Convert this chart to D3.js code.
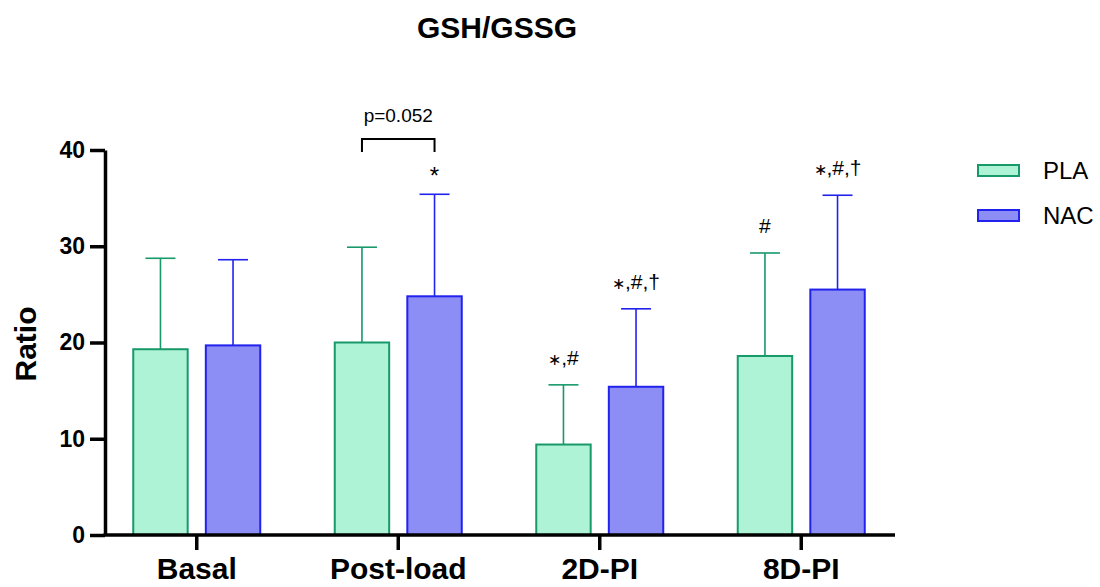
<!DOCTYPE html>
<html>
<head>
<meta charset="utf-8">
<script src="https://cdn.jsdelivr.net/npm/d3@7"></script>
<style>
  body { margin: 0; background: #fff; }
  svg { font-family: "Liberation Sans", Arial, sans-serif; }
</style>
</head>
<body>
<svg id="chart" width="1100" height="587"></svg>
<script>
let groups = ["Basal", "Post-load", "2D-PI", "8D-PI"];
let series = ["PLA", "NAC"];
let plaMean = [19.3, 20.0, 9.4, 18.6];
let plaSD = [9.45, 9.9, 6.2, 10.7];
let nacMean = [19.7, 24.8, 15.4, 25.5];
let nacSD = [8.9, 10.6, 8.1, 9.8];
let yTicks = [0, 10, 20, 30, 40];
// significance marks: group, series, text
let marks = [
  ["Post-load", "NAC", "*"],
  ["2D-PI", "PLA", "\u2217,#"],
  ["2D-PI", "NAC", "\u2217,#,\u2020"],
  ["8D-PI", "PLA", "#"],
  ["8D-PI", "NAC", "\u2217,#,\u2020"]
];

let fills = { PLA: "#aef3d6", NAC: "#8d8df6" };
let strokes = { PLA: "#17996a", NAC: "#2222ee" };

let svg = d3.select("#chart");

let x0 = d3.scaleBand().domain(groups).range([96, 902]).padding(0);
let x1 = d3.scaleBand().domain(series).range([0, 127]).paddingInner(0.25);
let off = (x0.bandwidth() - 127) / 2;
let y = d3.scaleLinear().domain([0, 40]).range([535, 150]);

let data = [];
groups.forEach((g, i) => {
  data.push({ g: g, s: "PLA", m: plaMean[i], sd: plaSD[i] });
  data.push({ g: g, s: "NAC", m: nacMean[i], sd: nacSD[i] });
});
let bx = d => x0(d.g) + off + x1(d.s);
let cx = d => bx(d) + x1.bandwidth() / 2;

// title
svg.append("text")
  .attr("x", 497).attr("y", 38)
  .attr("text-anchor", "middle")
  .attr("font-size", 30).attr("font-weight", "bold")
  .text("GSH/GSSG");

// error bars
let eb = svg.append("g").selectAll("g").data(data).enter().append("g")
  .attr("stroke", d => strokes[d.s]).attr("stroke-width", 1.6);
eb.append("line")
  .attr("x1", cx).attr("x2", cx)
  .attr("y1", d => y(d.m)).attr("y2", d => y(d.m + d.sd));
eb.append("line")
  .attr("x1", d => cx(d) - 15).attr("x2", d => cx(d) + 15)
  .attr("y1", d => y(d.m + d.sd)).attr("y2", d => y(d.m + d.sd));

// bars
svg.append("g").selectAll("rect").data(data).enter().append("rect")
  .attr("x", bx)
  .attr("y", d => y(d.m))
  .attr("width", x1.bandwidth())
  .attr("height", d => y(0) - y(d.m))
  .attr("fill", d => fills[d.s])
  .attr("stroke", d => strokes[d.s])
  .attr("stroke-width", 2);

// y axis
let yAxis = svg.append("g")
  .attr("transform", "translate(105,0)")
  .call(d3.axisLeft(y).tickValues(yTicks).tickSize(15).tickSizeOuter(0).tickPadding(5));
yAxis.select(".domain").attr("stroke-width", 3.5);
yAxis.selectAll(".tick line").attr("stroke-width", 3.5);
yAxis.selectAll("text").attr("font-size", 23).attr("font-weight", "bold")
  .attr("font-family", "Liberation Sans, Arial, sans-serif").attr("fill", "#000");

// x axis
let xAxis = svg.append("g")
  .attr("transform", "translate(0,535)")
  .call(d3.axisBottom(x0).tickSize(15).tickSizeOuter(0).tickPadding(8));
xAxis.select(".domain").attr("d", "M103.5,0H895").attr("stroke-width", 3.5);
xAxis.selectAll(".tick line").attr("stroke-width", 3.5);
xAxis.selectAll("text").attr("font-size", 30).attr("font-weight", "bold")
  .attr("font-family", "Liberation Sans, Arial, sans-serif").attr("fill", "#000");

// y label
svg.append("text")
  .attr("transform", "translate(36,344) rotate(-90)")
  .attr("text-anchor", "middle")
  .attr("font-size", 30).attr("font-weight", "bold")
  .text("Ratio");

// p-value bracket
let pl = data.find(d => d.g === "Post-load" && d.s === "PLA");
let na = data.find(d => d.g === "Post-load" && d.s === "NAC");
svg.append("path")
  .attr("d", `M${cx(pl)},152V139H${cx(na)}V152`)
  .attr("fill", "none").attr("stroke", "#000").attr("stroke-width", 2);
svg.append("text")
  .attr("x", (cx(pl) + cx(na)) / 2).attr("y", 122)
  .attr("text-anchor", "middle").attr("font-size", 19)
  .text("p=0.052");

// significance marks
let mt = svg.append("g").selectAll("text").data(marks).enter().append("text")
  .attr("x", m => cx(data.find(d => d.g === m[0] && d.s === m[1])))
  .attr("y", m => {
    let d = data.find(d => d.g === m[0] && d.s === m[1]);
    return y(d.m + d.sd) - (m[2] === "*" ? 10 : 20);
  })
  .attr("text-anchor", "middle")
  .attr("font-size", 21);
mt.selectAll("tspan")
  .data(m => m[2].split(/(\u2217)/).filter(t => t !== ""))
  .enter().append("tspan")
  .attr("font-size", t => t === "\u2217" ? 16 : (t === "*" ? 24 : 21))
  .text(t => t);

// legend
let lg = svg.append("g").selectAll("g").data(series).enter().append("g")
  .attr("transform", (d, i) => `translate(978,${165 + i * 45})`);
lg.append("rect")
  .attr("width", 41).attr("height", 11)
  .attr("fill", d => fills[d]).attr("stroke", d => strokes[d]).attr("stroke-width", 2);
lg.append("text")
  .attr("x", 65).attr("y", 14)
  .attr("font-size", 24)
  .text(d => d);
</script>
</body>
</html>
